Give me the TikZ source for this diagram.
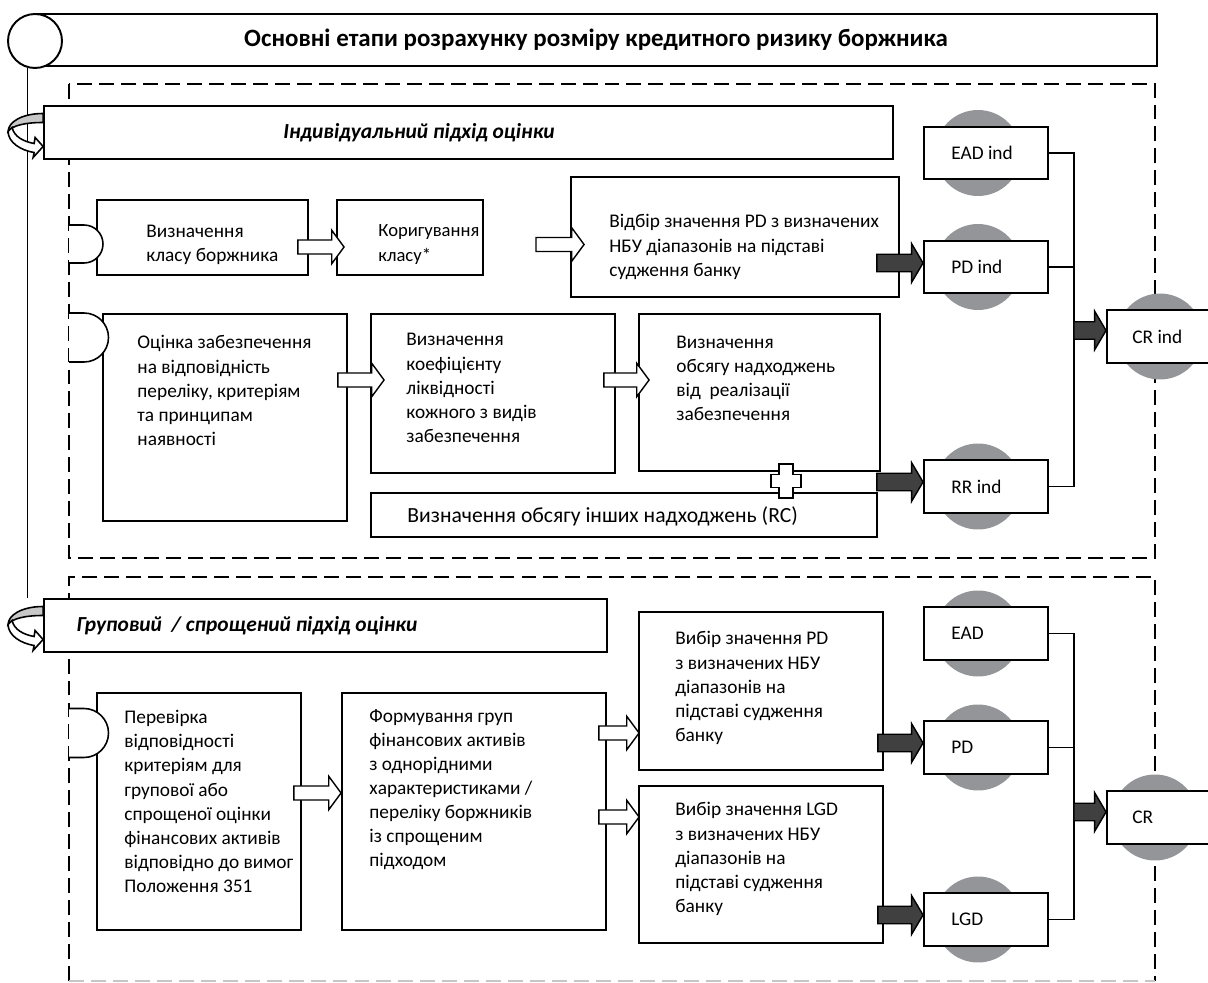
\documentclass[tikz,border=0pt]{standalone}
\usepackage{fontspec}
\setmainfont{Carlito}
\usetikzlibrary{calc,backgrounds}
\definecolor{circgray}{RGB}{147,149,152}
\definecolor{arrowdark}{RGB}{64,64,65}
\definecolor{curlgray}{RGB}{200,200,200}
\tikzset{
  box/.style={draw, line width=1.1pt, inner sep=0pt},
  smallbox/.style={box, fill=white, minimum width=2.48cm, minimum height=1.05cm},
  txt/.style={align=left, inner sep=0pt, font=\fontsize{11}{13.7}\selectfont},
  frame/.style={line width=0.85pt, dash pattern=on 8.5pt off 4pt},
  conn/.style={line width=0.8pt},
  blob/.style={fill=circgray}
}
% block arrow: fill, half shaft, half head, head length, from, to (height taken from 'from')
\newcommand{\fatarrow}[6]{%
  \draw[fill=#1, line width=0.8pt] let \p1=(#5), \p2=(#6) in
    (\x1,{\y1-#2}) -- ({\x2-#4},{\y1-#2}) -- ({\x2-#4},{\y1-#3}) -- (\x2,\y1)
    -- ({\x2-#4},{\y1+#3}) -- ({\x2-#4},{\y1+#2}) -- (\x1,{\y1+#2}) -- cycle;}
\newcommand{\blockarrow}[2]{\fatarrow{white}{4pt}{9.5pt}{7pt}{#1}{#2}}
\newcommand{\darkarrow}[2]{\fatarrow{arrowdark}{5pt}{11pt}{6.5pt}{#1}{#2}}
% half disc on the frame edge
\newcommand{\dcap}[2]{%
  \draw[line width=0.9pt, fill=white] (69,#1-#2) -- (84,#1-#2)
    arc[start angle=-90, end angle=90, radius=#2] -- (69,#1+#2);}
% curled arrow at the left of a heading
\newcommand{\curl}[1]{%
  \begin{scope}[shift={(#1)}, line width=0.9pt]
    \draw[fill=curlgray] (0,-19) .. controls (-22,-19) and (-35,-10) .. (-35,-1)
      .. controls (-31,-7) and (-18,-10) .. (0,-10) -- cycle;
    \draw[fill=white] (-35,-1) .. controls (-35,10) and (-22,18) .. (-9,20)
      -- (-10,25) -- (0,14) -- (-8,5) -- (-9,11)
      .. controls (-20,9) and (-29,4) .. (-31,-5) -- cycle;
  \end{scope}}

\begin{document}
\begin{tikzpicture}[x=0.02cm, y=-0.02cm]
  \useasboundingbox (0,0) rectangle (1208,983);

  % title
  \node[box, minimum width=22.44cm, minimum height=1.04cm,
        font=\bfseries\fontsize{14.2}{16}\selectfont] (title) at (596,40)
        {Основні етапи розрахунку розміру кредитного ризику боржника};
  \node[circle, draw, line width=1.1pt, fill=white, minimum size=1.08cm, inner sep=0pt] (tcirc) at (35,41) {};

  % headings
  \node[box, fill=white, minimum width=16.98cm, minimum height=1.06cm] (hdr1) at (468.5,132.5) {};
  \node[txt, font=\bfseries\itshape\fontsize{12.2}{14}\selectfont] (hdr1t) at (419,133) {Індивідуальний підхід оцінки};
  \node[box, fill=white, minimum width=11.26cm, minimum height=1.06cm] (hdr2) at (325.5,625.5) {};
  \node[txt, font=\bfseries\itshape\fontsize{12.2}{14}\selectfont] (hdr2t) at (247,626) {Груповий~ / спрощений підхід оцінки};

  \draw[conn] (tcirc.-105) -- (tcirc.-105 |- hdr2.north);
  \curl{hdr1.west}
  \curl{hdr2.west}

  % individual approach
  \node[box, minimum width=4.22cm, minimum height=1.5cm] (cls) at (202.5,237.5) {};
  \node[box, minimum width=2.92cm, minimum height=1.5cm] (adj) at (410,237.5) {};
  \node[box, minimum width=6.56cm, minimum height=2.4cm] (pdsel) at (735,237) {};
  \node[box, minimum width=4.88cm, minimum height=4.14cm] (coll) at (225,417.5) {};
  \node[box, minimum width=4.88cm, minimum height=3.18cm] (liq) at (493,393.5) {};
  \node[box, minimum width=4.82cm, minimum height=3.14cm] (proc) at (759.5,392.5) {};
  \node[box, minimum width=10.12cm, minimum height=0.88cm] (rc) at (624,515) {};

  \node[smallbox] (eadi) at (986,153) {};
  \node[smallbox] (pdi) at (986,267) {};
  \node[smallbox] (rri) at (986,486.5) {};
  \node[smallbox, minimum width=2.16cm] (cri) at (1161,336.5) {};

  % grouped approach
  \node[box, minimum width=4.08cm, minimum height=4.74cm] (chk) at (199,811.5) {};
  \node[box, minimum width=5.28cm, minimum height=4.74cm] (grp) at (474,811.5) {};
  \node[box, minimum width=4.88cm, minimum height=3.16cm] (pdsel2) at (761,691) {};
  \node[box, minimum width=4.88cm, minimum height=3.14cm] (lgdsel) at (761,864.5) {};

  \node[smallbox] (ead) at (986,633.5) {};
  \node[smallbox] (pd) at (986,747.5) {};
  \node[smallbox] (lgd) at (986,919.5) {};
  \node[smallbox, minimum width=2.16cm] (cr) at (1161,817.5) {};

  % frames and grey discs behind
  \begin{scope}[on background layer]
    \draw[frame] (69,84) rectangle (1155,558);
    \draw[frame] (69,981) -- (69,577) -- (1155,577) -- (1155,981);
    \draw[frame, gray!45] (69,981) -- (1155,981);
    \foreach \n in {eadi,pdi,rri,ead,pd,lgd}
      \fill[blob] ($(\n)+(-8,0)$) circle (0.86cm);
    \fill[blob] ($(cri)+(-1,0)$) circle (0.86cm);
    \fill[blob] ($(cr)+(-6,0)$) circle (0.86cm);
  \end{scope}

  \dcap{244}{19}
  \dcap{337.5}{24.5}
  \dcap{733}{24.5}

  % texts
  \node[txt, anchor=west] (cls-t) at ($(cls.west)+(50,7)$) {Визначення\\класу боржника};
  \node[txt, anchor=west, font=\fontsize{10.6}{13.7}\selectfont] (adj-t) at ($(adj.west)+(42,7)$) {Коригування\\класу*};
  \node[txt, anchor=west] (pdsel-t) at ($(pdsel.west)+(39,10)$) {Відбір значення PD з визначених\\НБУ діапазонів на підставі\\судження банку};
  \node[txt, anchor=west] (coll-t) at ($(coll.west)+(35,-27)$) {Оцінка забезпечення\\на відповідність\\переліку, критеріям\\та принципам\\наявності};
  \node[txt, anchor=west] (liq-t) at ($(liq.west)+(36,-5.5)$) {Визначення\\коефіцієнту\\ліквідності\\кожного з видів\\забезпечення};
  \node[txt, anchor=west] (proc-t) at ($(proc.west)+(38,-14.5)$) {Визначення\\обсягу надходжень\\від~ реалізації\\забезпечення};
  \node[txt, anchor=west, font=\fontsize{12.3}{14}\selectfont] (rc-t) at ($(rc.west)+(37,1)$) {Визначення обсягу інших надходжень (RC)};
  \node[txt, anchor=west] (chk-t) at ($(chk.west)+(28,-10)$) {Перевірка\\відповідності\\критеріям для\\групової або\\спрощеної оцінки\\фінансових активів\\відповідно до вимог\\Положення 351};
  \node[txt, anchor=west] (grp-t) at ($(grp.west)+(28,-22)$) {Формування груп\\фінансових активів\\з однорідними\\характеристиками /\\переліку боржників\\із спрощеним\\підходом};
  \node[txt, anchor=west] (pdsel2-t) at ($(pdsel2.west)+(37,-3)$) {Вибір значення PD\\з визначених НБУ\\діапазонів на\\підставі судження\\банку};
  \node[txt, anchor=west] (lgdsel-t) at ($(lgdsel.west)+(37,-5.5)$) {Вибір значення LGD\\з визначених НБУ\\діапазонів на\\підставі судження\\банку};

  \node[txt, anchor=west] (eadi-t) at ($(eadi.west)+(28,0)$) {EAD ind};
  \node[txt, anchor=west] (pdi-t) at ($(pdi.west)+(28,0)$) {PD ind};
  \node[txt, anchor=west] (rri-t) at ($(rri.west)+(28,0)$) {RR ind};
  \node[txt, anchor=west] (cri-t) at ($(cri.west)+(26,0)$) {CR ind};
  \node[txt, anchor=west] (ead-t) at ($(ead.west)+(28,0)$) {EAD};
  \node[txt, anchor=west] (pd-t) at ($(pd.west)+(28,0)$) {PD};
  \node[txt, anchor=west] (lgd-t) at ($(lgd.west)+(28,0)$) {LGD};
  \node[txt, anchor=west] (cr-t) at ($(cr.west)+(26,0)$) {CR};

  % white arrows
  \blockarrow{$(cls.east)+(-11,9.5)$}{$(adj.west)+(8,0)$}
  \blockarrow{$(adj.east)+(52,7)$}{$(pdsel.west)+(14,0)$}
  \blockarrow{$(coll.east)+(-10,-37.5)$}{$(liq.west)+(14,0)$}
  \blockarrow{$(liq.east)+(-12,-13.5)$}{$(proc.west)+(11,0)$}
  \blockarrow{$(chk.east)+(-8,-18.5)$}{grp.west}
  \blockarrow{$(grp.east)+(-8,-78.5)$}{$(pdsel2.west)+(1,0)$}
  \blockarrow{$(grp.east)+(-8,5.5)$}{$(lgdsel.west)+(1,0)$}

  % plus between the two sources of recovery
  \begin{scope}[shift={($(proc.south)+(26.5,9)$)}]
    \draw[line width=0.9pt, fill=white] (-7,-17) -- (7,-17) -- (7,-6.5) -- (15,-6.5) -- (15,6.5) -- (7,6.5)
      -- (7,17) -- (-7,17) -- (-7,6.5) -- (-15,6.5) -- (-15,-6.5) -- (-7,-6.5) -- cycle;
  \end{scope}

  % dark arrows
  \darkarrow{$(pdsel.east)+(-23,26)$}{pdi.west}
  \darkarrow{$(rc.east)+(-1,-33)$}{rri.west}
  \darkarrow{$(pdsel2.east)+(-6,52)$}{pd.west}
  \darkarrow{$(lgdsel.east)+(-6,50.5)$}{lgd.west}

  % brackets to CR
  \coordinate (brk1) at ($(eadi.east)+(25,0)$);
  \draw[conn] (eadi.east) -- (brk1) |- (rri.east);
  \draw[conn] (pdi.east) -- (pdi.east -| brk1);
  \darkarrow{$(brk1 |- cri.west)+(0,-6)$}{cri.west}

  \coordinate (brk2) at ($(ead.east)+(25,0)$);
  \draw[conn] (ead.east) -- (brk2) |- (lgd.east);
  \draw[conn] (pd.east) -- (pd.east -| brk2);
  \darkarrow{$(brk2 |- cr.west)+(0,-5.5)$}{cr.west}
\end{tikzpicture}
\end{document}
